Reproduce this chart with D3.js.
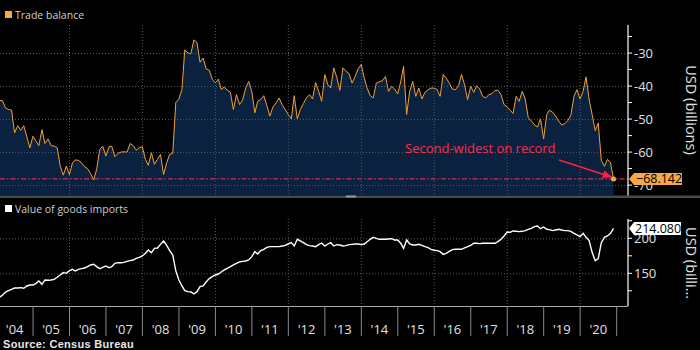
<!DOCTYPE html>
<html>
<head>
<meta charset="utf-8">
<script src="https://cdn.jsdelivr.net/npm/d3@7/dist/d3.min.js"></script>
<style>
  html, body { margin: 0; padding: 0; background: #000; }
  svg { display: block; font-family: "Open Sans", "Noto Sans", sans-serif; }
</style>
</head>
<body>
<svg id="chart" width="700" height="350"></svg>
<script>
// ---------------- DATA ----------------
const startYear = 2004; // monthly data, Jan 2004 .. Nov 2020
const tradeBalance = [
-44.4,-44.4,-46.6,-47.1,-47.3,-54.2,-52,-53.4,-52,-55.4,-58.7,-55.2,
-56.7,-58,-53.2,-57.4,-56,-58,-58.2,-58.7,-64.2,-67,-64.2,-66.8,
-63.2,-62.4,-62.5,-63.2,-64.4,-65,-66.5,-68.4,-65.2,-59.2,-58.2,-61.2,
-58.4,-58.2,-61.4,-60.4,-60,-59.9,-60,-57.4,-58,-59.4,-58.7,-58.4,
-62.2,-64,-60.2,-63.7,-62.2,-60.7,-66.8,-63.2,-60.7,-60.4,-45,-44,
-41,-29,-30,-30.2,-26,-26.8,-32.8,-31.5,-34.8,-35.2,-37.9,-39,
-37.9,-41,-40.3,-41.3,-41.9,-47.1,-42.6,-45.6,-44.3,-40.6,-38.6,-41.6,
-48.1,-44.6,-44.1,-42.9,-45.9,-49.1,-46.3,-45.1,-43.6,-45.6,-47.1,-48.6,
-49.9,-42.9,-49.9,-47.1,-45.3,-43.6,-42.6,-43.9,-38.9,-41.6,-44.6,-36.5,
-39.6,-40.6,-34.5,-37.3,-41.3,-34.5,-35.5,-36.2,-39.1,-37.1,-34.8,-33.5,
-37.6,-40.6,-42.9,-43.6,-39.1,-38.7,-38.4,-37.1,-41.6,-40.1,-40.9,-42.4,
-38.6,-34,-48.6,-41.6,-38.6,-43.1,-40.6,-43.9,-41.9,-41.1,-40.6,-40.6,
-41.1,-43.1,-36.5,-37.6,-39.1,-40.9,-41.1,-39.9,-36.5,-39.6,-44.1,-40.1,
-41.9,-39.9,-40.9,-43.1,-43.6,-42.6,-42.3,-41.3,-41.3,-42.6,-45.6,-46.3,
-47.3,-48.3,-43.1,-44.6,-41.6,-43.9,-49.6,-50.6,-51.7,-52.4,-49.9,-56,
-48.6,-47.3,-47.9,-49.1,-50.6,-51.8,-51.4,-50.4,-48.9,-43.1,-41.1,-43.9,
-41.6,-37.2,-44.1,-48.6,-53.5,-51.2,-62.5,-64.3,-62.2,-63.2,-68.142
];
const goodsImports = [
115.7,118.6,123.3,125.2,127.1,129,129,129.5,128.6,131.9,133.3,133.3,
135.7,139,134.3,140.5,140,140.5,141.4,144.3,147.6,151,150,153.8,
155.7,153.3,155.7,156.7,157.6,159.5,161.9,162.9,159.5,156.7,158.6,160.5,
158.1,159.5,164.3,165.2,165.2,165.7,167.1,168.1,169,171.4,172.9,174.8,
178.6,183.3,179.5,185.7,186.2,191.4,196.2,190,182.4,176.2,153.8,140.5,
131.9,125.2,123.8,123.3,120.5,123.8,131,131.9,137.6,142.4,145.2,147.6,
149,151.9,154.8,157.1,159.5,161.9,164.3,166.2,167.1,167.6,169,173.8,
181,177.6,182.4,184.3,187.1,188.1,188.1,188.1,188.1,189,190,191.9,
193.8,189,198.6,196.2,193.8,191,189.5,189,188.1,191,193.3,189,
191.9,193.8,189,191,190.5,189,189.5,191,191.4,191.9,191.9,191,
191.9,195.2,198.6,201.4,200,198.6,198.6,198.6,199,199.5,197.6,197.6,
192.9,185.7,197.6,191.9,190.5,190.5,191.4,190,188.1,186.7,184.3,182.9,
182.4,181,177.1,178.6,181.4,183.8,184.3,184.3,184.3,186.2,188,190,
192.9,192.9,192.4,192.9,192.9,192.9,192.9,192.9,195.2,198.6,203.3,209,
208.6,210.5,210,209.5,210,211,212.9,214.3,216.7,217.6,213.8,216.2,
212.9,212.4,211,211.9,212.9,211.9,211,211,210,207.1,204.8,202.4,
207.1,201.4,196.7,180,168,171,193.8,201.4,203.3,207.1,214.08
];
const yearLabels = ["'04","'05","'06","'07","'08","'09","'10","'11","'12","'13","'14","'15","'16","'17","'18","'19","'20"];
const topMajorTicks = [-30,-40,-50,-60,-70];
const topMinorTicks = [-25,-35,-45,-55,-65];
const botMajorTicks = [200,150];
const botMinorTicks = [225,175,125];
const gridYears = [2006,2008,2010,2012,2014,2016,2018,2020];
const topTitle = "Trade balance";
const botTitle = "Value of goods imports";
const annotationText = "Second-widest on record";
const sourceText = "Source: Census Bureau";

// ---------------- SETUP ----------------
const svg = d3.select("#chart");
const W = 700, H = 350;
const plotRight = 628;
const top0 = 25, top1 = 195;
const bot0 = 219, bot1 = 306;

const monthDate = i => new Date(startYear, i + 1, 0); // month-end
const x = d3.scaleTime()
  .domain([new Date(2004,0,1), new Date(2021,0,1)])
  .range([-3.5, 616.7]);
const yT = d3.scaleLinear().domain([-21.5, -73]).range([top0, top1]);
const yB = d3.scaleLinear().domain([227.6, 103.3]).range([bot0, bot1]);

svg.append("rect").attr("width", W).attr("height", H).attr("fill", "#000");

const defs = svg.append("defs");
defs.append("clipPath").attr("id","clipTop").append("rect")
  .attr("x",0).attr("y",top0).attr("width",plotRight).attr("height",top1-top0);
defs.append("clipPath").attr("id","clipBot").append("rect")
  .attr("x",0).attr("y",bot0-2).attr("width",plotRight).attr("height",bot1-bot0+2);
defs.append("marker").attr("id","arrow").attr("viewBox","0 0 10 10")
  .attr("refX",9).attr("refY",5).attr("markerWidth",7).attr("markerHeight",7)
  .attr("orient","auto-start-reverse")
  .append("path").attr("d","M0,1 L10,5 L0,9 Z").attr("fill","#ff2040");

const gridColor = "#5a5a5a";

// ---------------- TOP PANEL ----------------
const gT = svg.append("g").attr("clip-path","url(#clipTop)");
const tbData = tradeBalance.map((v,i)=>({d:monthDate(i), v}));
gT.append("path").datum(tbData)
  .attr("d", d3.area().x(d=>x(d.d)).y0(top1).y1(d=>yT(d.v)))
  .attr("fill","#0a2240");
// grid
gT.selectAll(".vg").data(gridYears).join("line")
  .attr("x1",d=>x(new Date(d,0,1))).attr("x2",d=>x(new Date(d,0,1)))
  .attr("y1",top0).attr("y2",top1)
  .attr("stroke",gridColor).attr("stroke-dasharray","1,2").attr("stroke-width",1);
gT.selectAll(".hg").data(topMajorTicks).join("line")
  .attr("x1",0).attr("x2",plotRight).attr("y1",d=>yT(d)+0.5).attr("y2",d=>yT(d)+0.5)
  .attr("stroke",gridColor).attr("stroke-dasharray","1,2").attr("stroke-width",1);
// reference line at last value
const lastTB = tradeBalance[tradeBalance.length-1];
gT.append("line").attr("x1",0).attr("x2",plotRight)
  .attr("y1",yT(lastTB)).attr("y2",yT(lastTB))
  .attr("stroke","#d42a50").attr("stroke-width",1.2).attr("stroke-dasharray","5,2,1.5,2");
gT.append("path").datum(tbData)
  .attr("d", d3.line().x(d=>x(d.d)).y(d=>yT(d.v)))
  .attr("fill","none").attr("stroke","#f2a033").attr("stroke-width",1);
const lastD = tbData[tbData.length-1];
gT.append("circle").attr("cx",x(lastD.d)).attr("cy",yT(lastD.v)).attr("r",2.5).attr("fill","#f7a845");

// annotation
svg.append("text").attr("x",405).attr("y",153).attr("fill","#ff2a48")
  .attr("font-size",13).text(annotationText);
svg.append("line").attr("x1",559).attr("y1",160).attr("x2",x(lastD.d)-2).attr("y2",yT(lastD.v)-2)
  .attr("stroke","#ff2040").attr("stroke-width",1.4).attr("marker-end","url(#arrow)");

// top axis
const axT = svg.append("g");
axT.append("line").attr("x1",plotRight).attr("x2",plotRight).attr("y1",top0).attr("y2",top1+1)
  .attr("stroke","#fff").attr("stroke-width",1.2);
axT.selectAll(".mt").data(topMajorTicks.concat(topMinorTicks)).join("line")
  .attr("x1",plotRight).attr("x2",plotRight+4).attr("y1",d=>yT(d)).attr("y2",d=>yT(d))
  .attr("stroke","#fff").attr("stroke-width",1);
axT.selectAll(".tl").data(topMajorTicks).join("text")
  .attr("x",plotRight+6).attr("y",d=>yT(d)).attr("dy","0.36em")
  .attr("fill","#e0e0e0").attr("font-size",13).text(d=>d);
svg.append("text")
  .attr("transform","translate(686,110) rotate(90)")
  .attr("text-anchor","middle").attr("fill","#e0e0e0").attr("font-size",14.5)
  .text("USD (billions)");

// last value label (top)
const ly = yT(lastTB);
svg.append("path")
  .attr("d",`M629,${ly} L634,${ly-6} H682 V${ly+6} H634 Z`).attr("fill","#f7a845");
svg.append("text").attr("x",636).attr("y",ly).attr("dy","0.36em")
  .attr("fill","#000").attr("font-size",12.5).text(d3.format(".3f")(lastTB));

// legend top
svg.append("rect").attr("x",5).attr("y",11).attr("width",7).attr("height",7).attr("fill","#f7a845");
svg.append("text").attr("x",15).attr("y",18.5).attr("fill","#cfcfcf").attr("font-size",10.5).text(topTitle);

// separator between panels
svg.append("rect").attr("x",0).attr("y",195.5).attr("width",W).attr("height",2.5).attr("fill","#4a4a4a");
svg.append("rect").attr("x",346).attr("y",195.5).attr("width",10).attr("height",2).attr("fill","#9a9a9a");

// ---------------- BOTTOM PANEL ----------------
svg.append("rect").attr("x",5).attr("y",205).attr("width",7).attr("height",7).attr("fill","#fff");
svg.append("text").attr("x",15).attr("y",212.5).attr("fill","#cfcfcf").attr("font-size",10.5).text(botTitle);

const gB = svg.append("g").attr("clip-path","url(#clipBot)");
gB.selectAll(".vg").data(gridYears).join("line")
  .attr("x1",d=>x(new Date(d,0,1))).attr("x2",d=>x(new Date(d,0,1)))
  .attr("y1",bot0).attr("y2",bot1)
  .attr("stroke",gridColor).attr("stroke-dasharray","1,2").attr("stroke-width",1);
gB.selectAll(".hg").data(botMajorTicks).join("line")
  .attr("x1",0).attr("x2",plotRight).attr("y1",d=>yB(d)+0.5).attr("y2",d=>yB(d)+0.5)
  .attr("stroke",gridColor).attr("stroke-dasharray","1,2").attr("stroke-width",1);
const imData = goodsImports.map((v,i)=>({d:monthDate(i), v}));
gB.append("path").datum(imData)
  .attr("d", d3.line().x(d=>x(d.d)).y(d=>yB(d.v)))
  .attr("fill","none").attr("stroke","#fff").attr("stroke-width",1.4);

// bottom axis (right)
const axB = svg.append("g");
axB.append("line").attr("x1",plotRight).attr("x2",plotRight).attr("y1",bot0).attr("y2",bot1)
  .attr("stroke","#fff").attr("stroke-width",1.2);
axB.selectAll(".mt").data(botMajorTicks.concat(botMinorTicks)).join("line")
  .attr("x1",plotRight).attr("x2",plotRight+4).attr("y1",d=>yB(d)).attr("y2",d=>yB(d))
  .attr("stroke","#fff").attr("stroke-width",1);
axB.selectAll(".tl").data(botMajorTicks).join("text")
  .attr("x",plotRight+6).attr("y",d=>yB(d)).attr("dy","0.36em")
  .attr("fill","#e0e0e0").attr("font-size",13).text(d=>d);
svg.append("text")
  .attr("transform","translate(686,263) rotate(90)")
  .attr("text-anchor","middle").attr("fill","#e0e0e0").attr("font-size",14.5)
  .text("USD (billi\u2026");

const lastIM = goodsImports[goodsImports.length-1];
const ly2 = yB(lastIM);
svg.append("path")
  .attr("d",`M629,${ly2} L634,${ly2-6.5} H681 V${ly2+6.5} H634 Z`).attr("fill","#fff");
svg.append("text").attr("x",635).attr("y",ly2).attr("dy","0.36em")
  .attr("fill","#000").attr("font-size",12.5).text(d3.format(".3f")(lastIM));

// x axis
svg.append("line").attr("x1",0).attr("x2",plotRight).attr("y1",bot1+0.5).attr("y2",bot1+0.5)
  .attr("stroke","#aaa").attr("stroke-width",1);
const yearBounds = d3.range(2005, 2022);
svg.selectAll(".xb").data(yearBounds).join("line")
  .attr("x1",d=>x(new Date(d,0,1))).attr("x2",d=>x(new Date(d,0,1)))
  .attr("y1",bot1).attr("y2",336)
  .attr("stroke","#8a8a8a").attr("stroke-width",1);
svg.selectAll(".xl").data(yearLabels).join("text")
  .attr("x",(d,i)=>x(new Date(2004+i,6,1)))
  .attr("y",334).attr("text-anchor","middle")
  .attr("fill","#e0e0e0").attr("font-size",13).text(d=>d);

svg.append("text").attr("x",3).attr("y",348).attr("fill","#e8e8e8")
  .attr("font-size",11).attr("font-weight","bold")
  .attr("font-family","'Liberation Sans', Arial, sans-serif")
  .attr("letter-spacing",0.3).text(sourceText);
</script>
</body>
</html>
